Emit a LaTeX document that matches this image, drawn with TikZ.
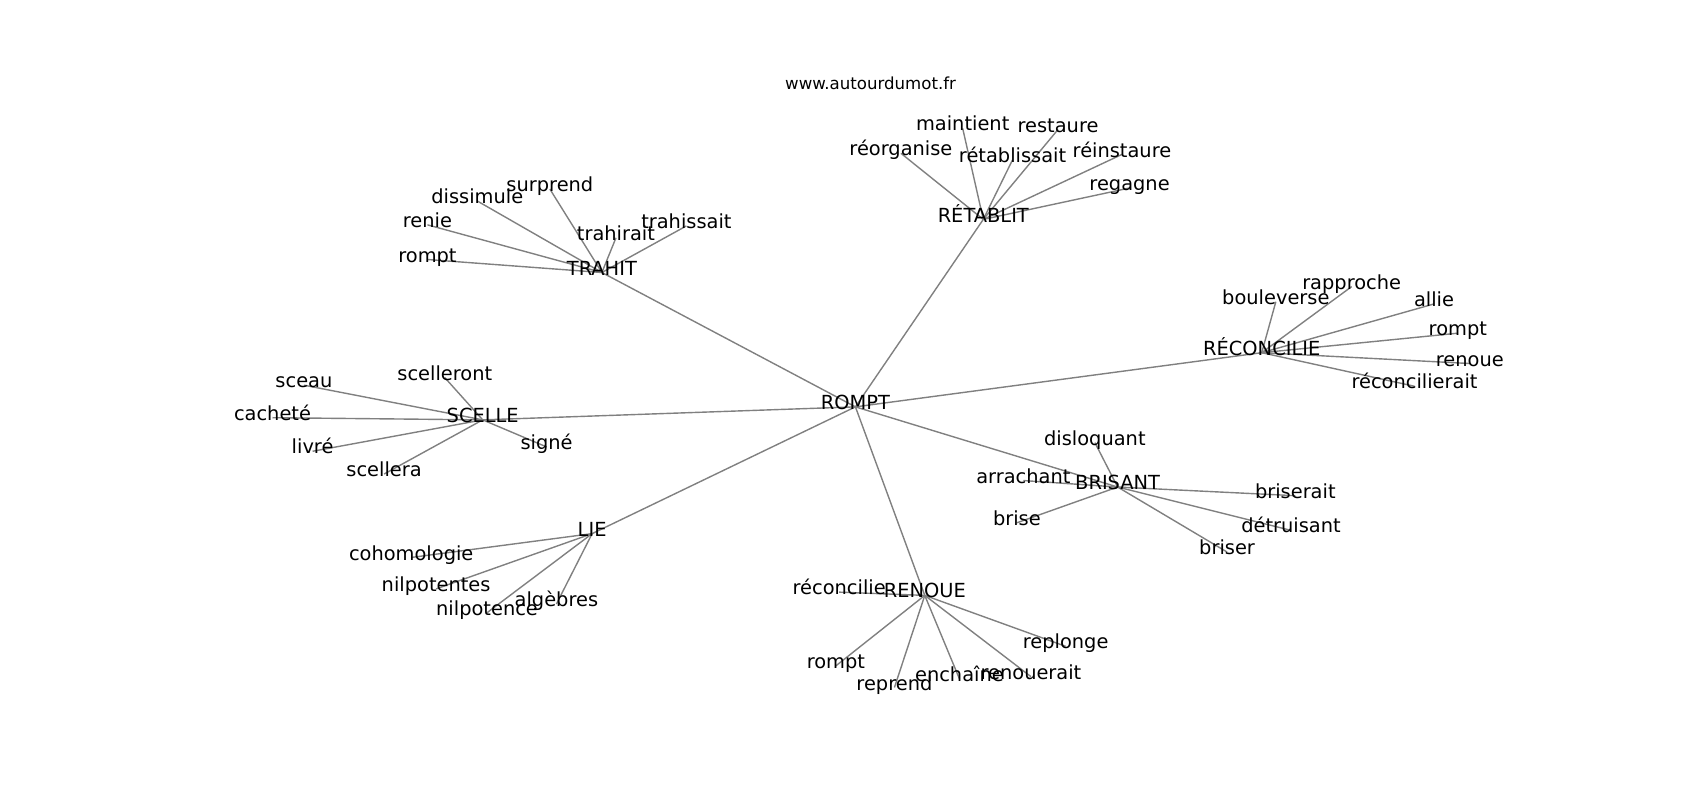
\documentclass[tikz,border=0pt]{standalone}
\usepackage{fontspec}
\setmainfont{DejaVu Sans}
\pgfdeclarelayer{bg}
\pgfsetlayers{bg,main}
\begin{document}
\begin{tikzpicture}[x=1.0835pt,y=-1.0835pt,
  lbl/.style={inner sep=0pt,anchor=center,text height=0.76em,text depth=0.24em,font=\fontsize{19.4}{22}\selectfont},
  edge/.style={draw=gray,line width=1.4pt}]
\useasboundingbox (-0.5,-4.5) rectangle (1568.5,733.8);
\node[inner sep=0pt,text height=0.76em,text depth=0.24em,font=\fontsize{16.6}{19}\selectfont] (title) at (803,76) {www.autourdumot.fr};
% hubs
\node[lbl] (rompt) at (789,371) {ROMPT};
\node[lbl] (trahit) at (555,247) {TRAHIT};
\node[lbl] (retablit) at (907,198) {RÉTABLIT};
\node[lbl] (reconcilie) at (1164,321) {RÉCONCILIE};
\node[lbl] (brisant) at (1031,445) {BRISANT};
\node[lbl] (renoue) at (853,545) {RENOUE};
\node[lbl] (lie) at (546,488) {LIE};
\node[lbl] (scelle) at (445,383) {SCELLE};
% TRAHIT leaves
\node[lbl] (t1) at (507,170) {surprend};
\node[lbl] (t2) at (440,181) {dissimule};
\node[lbl] (t3) at (394,203) {renie};
\node[lbl] (t4) at (394,235) {rompt};
\node[lbl] (t5) at (568,215) {trahirait};
\node[lbl] (t6) at (633,204) {trahissait};
% RETABLIT leaves
\node[lbl] (r1) at (888,114) {maintient};
\node[lbl] (r2) at (976,115) {restaure};
\node[lbl] (r3) at (831,137) {réorganise};
\node[lbl] (r4) at (934,143) {rétablissait};
\node[lbl] (r5) at (1035,138) {réinstaure};
\node[lbl] (r6) at (1042,169) {regagne};
% RECONCILIE leaves
\node[lbl] (c1) at (1177,274) {bouleverse};
\node[lbl] (c2) at (1247,260) {rapproche};
\node[lbl] (c3) at (1323,276) {allie};
\node[lbl] (c4) at (1345,303) {rompt};
\node[lbl] (c5) at (1356,331) {renoue};
\node[lbl] (c6) at (1305,352) {réconcilierait};
% BRISANT leaves
\node[lbl] (b1) at (1010,404) {disloquant};
\node[lbl] (b2) at (944,439) {arrachant};
\node[lbl] (b3) at (938,478) {brise};
\node[lbl] (b4) at (1195,453) {briserait};
\node[lbl] (b5) at (1191,485) {détruisant};
\node[lbl] (b6) at (1132,505) {briser};
% RENOUE leaves
\node[lbl] (n1) at (774,542) {réconcilie};
\node[lbl] (n2) at (771,610) {rompt};
\node[lbl] (n3) at (825,630) {reprend};
\node[lbl] (n4) at (885,622) {enchaîne};
\node[lbl] (n5) at (951,620) {renouerait};
\node[lbl] (n6) at (983,592) {replonge};
% LIE leaves
\node[lbl] (l1) at (379,510) {cohomologie};
\node[lbl] (l2) at (402,539) {nilpotentes};
\node[lbl] (l3) at (449,561) {nilpotence};
\node[lbl] (l4) at (513,553) {algèbres};
% SCELLE leaves
\node[lbl] (s1) at (280,351) {sceau};
\node[lbl] (s2) at (251,381) {cacheté};
\node[lbl] (s3) at (288,412) {livré};
\node[lbl] (s4) at (354,433) {scellera};
\node[lbl] (s5) at (410,344) {scelleront};
\node[lbl] (s6) at (504,408) {signé};
% edges (behind the labels)
\begin{pgfonlayer}{bg}
\foreach \h in {trahit,retablit,reconcilie,brisant,renoue,lie,scelle}
  \draw[edge] (rompt.center) -- (\h.center);
\foreach \i in {1,...,6} \draw[edge] (trahit.center) -- (t\i.center);
\foreach \i in {1,...,6} \draw[edge] (retablit.center) -- (r\i.center);
\foreach \i in {1,...,6} \draw[edge] (reconcilie.center) -- (c\i.center);
\foreach \i in {1,...,6} \draw[edge] (brisant.center) -- (b\i.center);
\foreach \i in {1,...,6} \draw[edge] (renoue.center) -- (n\i.center);
\foreach \i in {1,...,4} \draw[edge] (lie.center) -- (l\i.center);
\foreach \i in {1,...,6} \draw[edge] (scelle.center) -- (s\i.center);
\end{pgfonlayer}
\end{tikzpicture}
\end{document}
